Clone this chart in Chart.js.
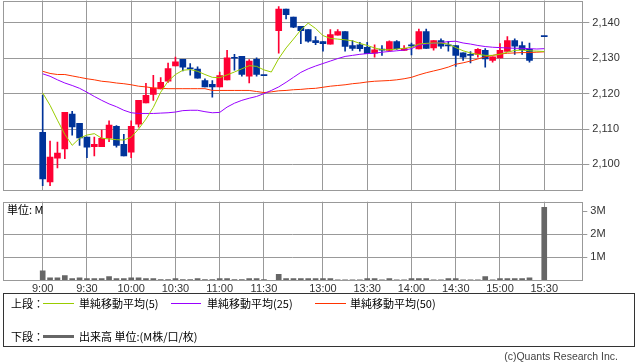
<!DOCTYPE html>
<html><head><meta charset="utf-8">
<script src="https://cdn.jsdelivr.net/npm/chart.js@4/dist/chart.umd.min.js"></script>
<style>
html,body{margin:0;padding:0;background:#fff}
body{width:638px;height:362px;position:relative;overflow:hidden}
canvas{position:absolute;left:0}
#main{top:0}
#vol{top:196px}
.t{position:absolute;font-family:"Noto Sans CJK JP",sans-serif;font-size:11px;line-height:14px;color:#000;white-space:nowrap}
.ln{position:absolute;height:1px}
#legend{position:absolute;left:3px;top:293px;width:632px;height:54px;border:1px solid #333;box-sizing:border-box}
#copy{position:absolute;right:20px;top:350px;font-family:"Liberation Sans",sans-serif;font-size:10.5px;color:#444;white-space:nowrap}
</style></head>
<body>
<canvas id="main" width="638" height="196"></canvas>
<canvas id="vol" width="638" height="100"></canvas>
<div class="t" style="left:7px;top:202px">単位: M</div>
<div id="legend"></div>
<div class="t" style="left:11px;top:296px">上段：</div>
<div class="ln" style="left:43px;top:303px;width:31px;background:#99cc00"></div>
<div class="t" style="left:79px;top:296px">単純移動平均(5)</div>
<div class="ln" style="left:171px;top:303px;width:30px;background:#9900ff"></div>
<div class="t" style="left:207px;top:296px">単純移動平均(25)</div>
<div class="ln" style="left:315px;top:303px;width:31px;background:#ff3300"></div>
<div class="t" style="left:350px;top:296px">単純移動平均(50)</div>
<div class="t" style="left:11px;top:329px">下段：</div>
<div class="ln" style="left:43px;top:335px;width:31px;height:3px;background:#666"></div>
<div class="t" style="left:79px;top:329px">出来高 単位:(M株/口/枚)</div>
<div id="copy">(c)Quants Research Inc.</div>
<script>
const times = ['9:00','9:05','9:10','9:15','9:20','9:25','9:30','9:35','9:40','9:45','9:50','9:55',
'10:00','10:05','10:10','10:15','10:20','10:25','10:30','10:35','10:40','10:45','10:50','10:55',
'11:00','11:05','11:10','11:15','11:20','11:25','11:30','',
'12:30','12:35','12:40','12:45','12:50','12:55',
'13:00','13:05','13:10','13:15','13:20','13:25','13:30','13:35','13:40','13:45','13:50','13:55',
'14:00','14:05','14:10','14:15','14:20','14:25','14:30','14:35','14:40','14:45','14:50','14:55',
'15:00','15:05','15:10','15:15','15:20','15:25','15:30'];
const tickLabels = ['9:00','9:30','10:00','10:30','11:00','11:30','13:00','13:30','14:00','14:30','15:00','15:30'];
const priceTicks = [2100,2110,2120,2130,2140];
const volTicks = [1,2,3];

const opens = [2109.1,2095.1,2101.8,2104.4,2114.2,2111.6,2107.7,2105.0,2105.0,2107.4,2110.8,2105.7,
2103.5,2111.4,2117.4,2119.8,2121.3,2123.5,2127.8,2129.7,2127.1,2126.9,2123.7,2122.6,
2121.9,2123.9,2130.2,2130.5,2124.9,2129.7,2125.1,null,
2137.8,2143.9,2141.6,2139.0,2138.1,2135.0,
2134.7,2134.0,2136.5,2137.5,2133.6,2133.8,2133.1,2131.4,2132.5,2132.2,2134.7,2132.2,
2133.7,2132.6,2137.5,2132.9,2135.0,2133.7,2133.6,2131.5,2131.0,2131.1,2132.2,2129.4,
2130.1,2131.9,2135.0,2133.6,2132.5,null,2136.1];
const highs = [2119.5,2106.6,2106.3,2114.7,2115.0,2111.6,2107.7,2107.7,2109.7,2112.3,2111.0,2108.5,
2112.3,2118.1,2122.9,2125.2,2124.5,2128.6,2130.3,2129.7,2128.5,2127.6,2124.2,2123.7,
2126.1,2132.2,2131.1,2130.5,2129.6,2130.1,2125.1,null,
2144.6,2143.9,2141.6,2139.0,2138.1,2136.1,
2134.7,2138.1,2138.1,2137.5,2135.0,2134.5,2134.5,2133.8,2133.6,2134.9,2135.0,2133.6,
2134.3,2138.2,2138.2,2135.0,2135.5,2134.8,2133.6,2131.5,2131.9,2132.7,2132.7,2130.4,
2134.1,2136.1,2135.5,2134.6,2134.3,null,2136.1];
const lows = [2094.0,2094.0,2099.0,2101.6,2108.3,2105.4,2101.9,2102.4,2105.0,2106.4,2104.9,2102.4,
2101.9,2110.5,2117.4,2118.1,2121.3,2123.2,2127.8,2126.4,2125.2,2124.4,2121.9,2119.0,
2121.9,2123.9,2126.6,2124.9,2123.0,2124.9,2125.1,null,
2131.4,2141.1,2138.6,2134.1,2134.5,2133.8,
2132.0,2134.0,2136.5,2132.0,2132.2,2132.0,2131.3,2130.3,2130.8,2132.0,2132.5,2132.2,
2130.9,2132.6,2132.8,2132.3,2132.8,2132.0,2127.7,2129.4,2128.7,2130.3,2127.5,2128.9,
2130.1,2131.9,2131.1,2131.1,2128.9,null,2136.1];
const closes = [2095.9,2102.1,2103.2,2114.7,2110.6,2107.5,2104.9,2105.7,2107.4,2111.1,2105.4,2102.4,
2110.8,2118.1,2119.5,2121.6,2123.2,2127.1,2129.0,2127.5,2127.0,2124.4,2121.9,2121.9,
2125.1,2130.1,2130.0,2125.4,2129.2,2125.4,2125.1,null,
2143.9,2142.3,2138.8,2137.8,2134.8,2134.4,
2134.1,2136.7,2137.5,2133.3,2132.8,2132.7,2131.3,2132.4,2132.3,2134.7,2132.7,2132.8,
2133.5,2137.5,2132.8,2135.0,2133.4,2133.5,2130.8,2130.3,2130.8,2132.5,2129.8,2130.4,
2132.2,2135.0,2133.4,2132.4,2129.4,null,2136.1];
const volumes = [0.41,0.11,0.11,0.20,0.07,0.11,0.07,0.07,0.07,0.16,0.07,0.07,
0.11,0.11,0.07,0.07,0.03,0.03,0.07,0.03,0.03,0.07,0.03,0.03,
0.07,0.07,0.03,0.03,0.07,0.07,0.03,null,
0.26,0.07,0.07,0.07,0.07,0.07,
0.07,0.07,0.02,0.02,0.02,0.02,0.07,0.07,0.02,0.07,0.02,0.02,
0.07,0.07,0.07,0.02,0.02,0.07,0.07,0.02,0.02,0.02,0.16,0.02,
0.07,0.07,0.07,0.07,0.11,null,3.17];
const ma5 = [2120.2,2116.7,2112.5,2108.5,2105.4,2107.4,2108.3,2108.7,2107.4,2107.2,2107.0,2106.9,
2107.7,2110.0,2112.8,2116.1,2120.4,2123.5,2125.4,2126.6,2126.8,2126.3,2125.4,2124.6,
2124.5,2125.3,2126.1,2127.0,2127.9,2127.7,2126.7,2126.1,
2129.9,2132.9,2135.4,2138.0,2139.9,2138.4,
2136.4,2135.6,2135.4,2135.2,2134.9,2134.2,2133.6,2132.9,2132.4,2132.4,2132.6,2132.8,
2133.1,2134.0,2134.2,2134.3,2134.3,2134.0,2133.0,2132.1,2131.5,2131.1,2130.8,2130.8,
2131.1,2131.7,2132.2,2132.3,2132.1,2132.0,2131.9];
const ma25 = [2125.6,2124.9,2123.9,2123.0,2122.3,2121.5,2120.4,2119.2,2118.1,2117.1,2116.3,2115.3,
2114.6,2114.4,2114.4,2114.4,2114.5,2114.6,2114.8,2115.2,2115.3,2115.3,2114.9,2114.6,
2114.7,2116.2,2117.3,2118.1,2118.7,2119.2,2120.0,2120.9,
2121.9,2123.2,2124.6,2126.0,2127.0,2127.8,
2128.5,2129.2,2129.9,2130.5,2130.8,2131.1,2131.3,2131.4,2131.7,2131.9,2132.1,2132.3,
2132.7,2133.7,2134.0,2134.2,2134.4,2134.7,2134.8,2134.3,2134.0,2133.6,2133.3,2133.1,
2133.0,2132.9,2132.8,2132.8,2132.7,2132.6,2132.7];
const ma50 = [2126.3,2125.7,2125.4,2125.4,2125.0,2124.6,2124.2,2123.9,2123.5,2123.3,2123.0,2122.8,
2122.5,2122.1,2121.9,2121.6,2121.5,2121.4,2121.4,2121.4,2121.4,2121.4,2121.4,2120.9,
2120.9,2120.9,2120.9,2120.9,2120.9,2120.6,2120.3,2120.5,
2120.8,2120.9,2121.1,2121.2,2121.4,2121.5,
2121.8,2122.1,2122.3,2122.5,2122.8,2123.0,2123.3,2123.5,2123.6,2123.7,2123.9,2124.2,
2124.6,2125.3,2125.9,2126.4,2126.9,2127.5,2128.3,2128.7,2129.2,2129.8,2130.4,2130.8,
2131.2,2131.4,2131.5,2131.6,2131.6,2131.7,2131.8];

const UP = '#ff0033', DOWN = '#003399', GRID = '#999999';
const X_MIN = -5.34, X_MAX = 73.16;
Chart.defaults.font.family = '"Liberation Sans", Arial, sans-serif';
Chart.defaults.font.size = 11;

const idx = times.map((t, i) => i);
const tickIdx = tickLabels.map(l => times.indexOf(l));
const hasBar = i => opens[i] !== null;
const colorOf = i => closes[i] > opens[i] ? UP : DOWN;

const frame = {
  id: 'frame',
  afterDraw(c) {
    const { ctx, chartArea: a } = c;
    ctx.save();
    ctx.strokeStyle = GRID; ctx.lineWidth = 1;
    const l = Math.round(a.left) + 0.5, t = Math.round(a.top) + 0.5;
    ctx.strokeRect(l, t, Math.round(a.right) - Math.round(a.left), Math.round(a.bottom) - Math.round(a.top));
    ctx.restore();
  }
};

const noPad = s => { s.paddingTop = 0; s.paddingBottom = 0; s.paddingLeft = 0; s.paddingRight = 0; };

const xScale = (showLabels, h) => ({
  type: 'linear', min: X_MIN, max: X_MAX, offset: false,
  afterBuildTicks: s => { s.ticks = tickIdx.map(v => ({ value: v })); },
  ticks: { display: showLabels, autoSkip: false, maxRotation: 0, color: '#333', padding: 2,
           callback: v => times[v] },
  grid: { color: GRID, drawTicks: false, offset: false },
  border: { display: false },
  afterFit: s => { s.height = h; noPad(s); }
});

const lineDs = (vals, color) => ({
  type: 'line', data: idx.map(i => ({ x: i, y: vals[i] })), borderColor: color,
  borderWidth: 1, pointRadius: 0, tension: 0, order: 0
});

new Chart(document.getElementById('main'), {
  type: 'bar',
  data: {
    datasets: [
      lineDs(ma5, '#99cc00'),
      lineDs(ma25, '#9900ff'),
      lineDs(ma50, '#ff3300'),
      { type: 'bar', data: idx.filter(hasBar).map(i => ({ x: i, y: [opens[i], closes[i]] })),
        backgroundColor: c => colorOf(c.raw.x), barThickness: 6, minBarLength: 1, grouped: false, order: 1 },
      { type: 'bar', data: idx.filter(hasBar).map(i => ({ x: i, y: [lows[i], highs[i]] })),
        backgroundColor: c => colorOf(c.raw.x), barThickness: 1, grouped: false, order: 2 }
    ]
  },
  options: {
    responsive: false, animation: false,
    layout: { padding: { left: 3.3, right: 0, top: 0.5, bottom: 0 } },
    plugins: { legend: { display: false }, tooltip: { enabled: false } },
    scales: {
      x: xScale(false, 5.7),
      y: {
        position: 'right', min: 2092.7, max: 2146.3,
        afterBuildTicks: s => { s.ticks = priceTicks.map(v => ({ value: v })); },
        ticks: { color: '#333', padding: 3, callback: v => v.toLocaleString('en-US') },
        grid: { color: GRID, tickLength: 7 },
        border: { display: false },
        afterFit: s => { s.width = 55.7; noPad(s); }
      }
    }
  },
  plugins: [frame]
});

new Chart(document.getElementById('vol'), {
  type: 'bar',
  data: {
    datasets: [
      { data: idx.filter(i => volumes[i] !== null).map(i => ({ x: i, y: volumes[i] })),
        backgroundColor: '#666666', barThickness: 5, grouped: false }
    ]
  },
  options: {
    responsive: false, animation: false,
    layout: { padding: { left: 3.3, right: 0, top: 5.7, bottom: 0 } },
    plugins: { legend: { display: false }, tooltip: { enabled: false } },
    scales: {
      x: xScale(true, 15.7),
      y: {
        position: 'right', min: 0, max: 3.41,
        afterBuildTicks: s => { s.ticks = volTicks.map(v => ({ value: v })); },
        ticks: { color: '#333', padding: 3, callback: v => v + 'M' },
        grid: { color: c => (c.tick && c.tick.value === 3) ? 'rgba(0,0,0,0)' : GRID, tickColor: GRID, tickLength: 5 },
        border: { display: false },
        afterFit: s => { s.width = 55.7; noPad(s); }
      }
    }
  },
  plugins: [frame]
});
</script>
</body></html>
